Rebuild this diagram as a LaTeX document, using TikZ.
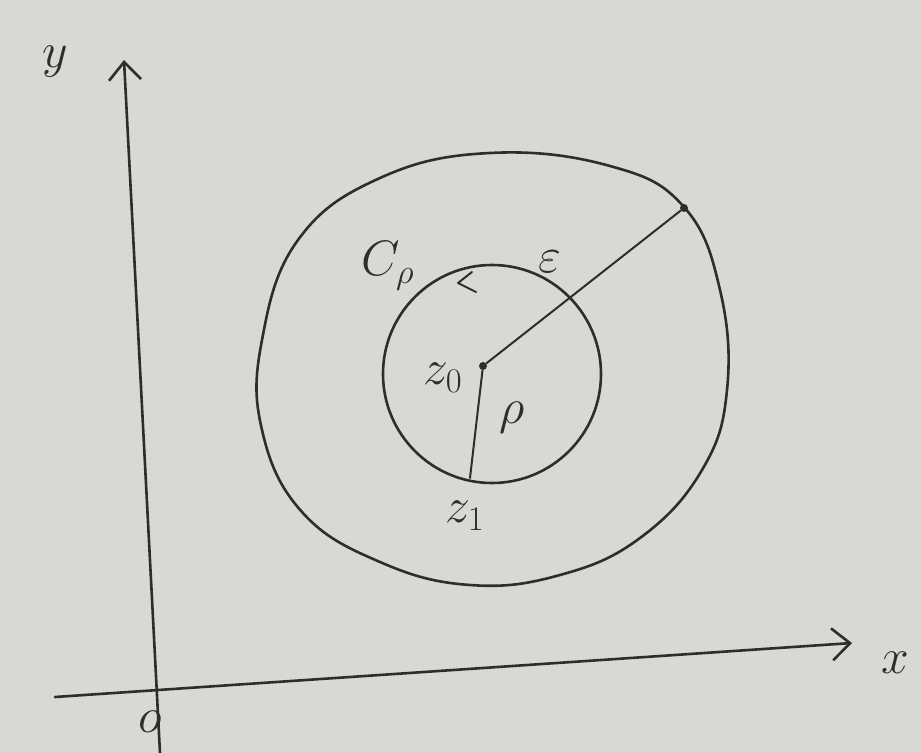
\documentclass[tikz,border=0pt]{standalone}
\usetikzlibrary{arrows.meta}
\definecolor{paper}{RGB}{214,217,212}
\definecolor{ink}{RGB}{45,45,45}
\begin{document}
\begin{tikzpicture}[x=0.5pt,y=-0.5pt,
  pen/.style={draw=ink,line width=1.3pt,line cap=round,line join=round},
  axis/.style={pen,-{Straight Barb[length=9pt,width=16pt,line width=1.3pt]}},
  lbl/.style={text=ink,font=\fontsize{26}{28}\selectfont,inner sep=0pt},
  dot/.style={circle,fill=ink,inner sep=0pt,minimum size=4pt}]
\fill[paper] (0,0) rectangle (921,753);
\useasboundingbox (0,0) rectangle (921,753);
% axes
\coordinate (ybot) at (160,753);
\coordinate (ytop) at (124,60);
\coordinate (xleft) at (55,697);
\coordinate (xright) at (852,643);
\draw[axis] (ybot) -- (ytop);
\draw[axis] (xleft) -- (xright);
\node[lbl] (ylab) at (55,62) {$y$};
\node[lbl] (xlab) at (895,663) {$x$};
\node[lbl] (olab) at (150,722) {$o$};
% outer region
\draw[pen] plot[smooth cycle,tension=0.7] coordinates {
  (490,153) (610,166) (684,207) (720,290) (727,390) (702,470) (640,538)
  (560,575) (470,585) (380,562) (302,512) (262,430) (262,340) (298,240) (380,178)};
% inner circle
\draw[pen] (492,374) circle[radius=109];
% points and radii
\node[dot] (z0) at (483,366) {};
\node[dot] (eend) at (684,208) {};
\coordinate (z1) at (470,478);
\draw[pen,line width=1pt] (z0) -- (eend);
\draw[pen,line width=1pt] (z0) -- (z1);
% direction mark on inner circle
\coordinate (ca) at (472,272);
\coordinate (cb) at (458,283);
\coordinate (cc) at (476,292);
\draw[pen,line width=1pt] (ca) -- (cb) -- (cc);
% labels
\node[lbl] (cp) at (388,266) {$C_\rho$};
\node[lbl] (eps) at (550,262) {$\varepsilon$};
\node[lbl] (z0lab) at (443,378) {$z_0$};
\node[lbl] (rho) at (512,418) {$\rho$};
\node[lbl] (z1lab) at (465,516) {$z_1$};
\end{tikzpicture}
\end{document}
